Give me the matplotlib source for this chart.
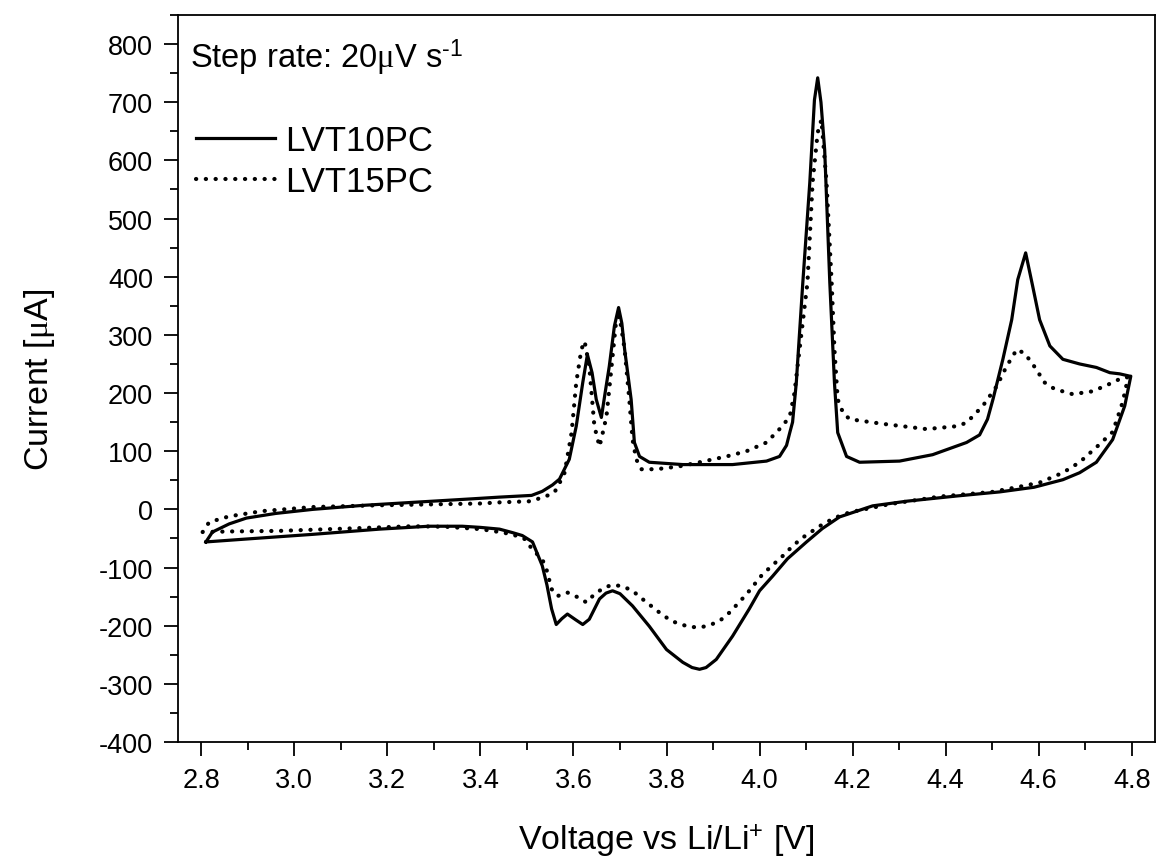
import numpy as np
import matplotlib
matplotlib.use("Agg")
import matplotlib.pyplot as plt
from matplotlib.ticker import MultipleLocator

plt.rcParams['font.family'] = ['Liberation Sans', 'DejaVu Sans']
plt.rcParams['axes.unicode_minus'] = False
plt.rcParams['mathtext.fontset'] = 'custom'
plt.rcParams['mathtext.rm'] = 'Liberation Sans'
plt.rcParams['mathtext.sf'] = 'Liberation Sans'
plt.rcParams['mathtext.it'] = 'Liberation Serif'
plt.rcParams['mathtext.bf'] = 'Liberation Sans:bold'

# ---- LVT10PC (solid) ----
v10_anodic = [2.81, 2.824, 2.86, 2.897, 2.96, 3.04, 3.15, 3.254, 3.38, 3.44, 3.51, 3.533, 3.555, 3.57,
              3.591, 3.606, 3.620, 3.630, 3.640, 3.649, 3.660, 3.668, 3.677, 3.688, 3.697, 3.704, 3.710,
              3.724, 3.731, 3.742, 3.763, 3.835, 3.942, 4.015, 4.043, 4.058, 4.065, 4.071, 4.079, 4.093,
              4.108, 4.118, 4.125, 4.132, 4.140, 4.151, 4.161, 4.168, 4.187, 4.215, 4.301, 4.372, 4.445,
              4.473, 4.49, 4.502, 4.523, 4.542, 4.555, 4.572, 4.587, 4.602, 4.624, 4.652, 4.688, 4.724,
              4.753, 4.774, 4.796]
i10_anodic = [-56, -39, -25, -15, -7, 0, 7, 12, 18, 21, 24, 31, 42, 52,
              86, 143, 218, 266, 235, 189, 158, 200, 246, 315, 347, 320, 275,
              189, 115, 91, 81, 77, 77, 83, 91, 110, 132, 150, 218, 390,
              562, 704, 742, 700, 618, 390, 218, 132, 91, 81, 83, 94, 115,
              128, 155, 190, 258, 326, 395, 441, 384, 326, 281, 258, 250, 244,
              235, 233, 229]
v10_cathodic = [4.798, 4.785, 4.759, 4.724, 4.688, 4.652, 4.59, 4.516, 4.424, 4.316, 4.243, 4.172, 4.135,
                4.101, 4.06, 4.028, 4.00, 3.978, 3.942, 3.907, 3.885, 3.871, 3.855, 3.835, 3.800, 3.763,
                3.727, 3.700, 3.684, 3.670, 3.656, 3.634, 3.620, 3.605, 3.587, 3.575, 3.563, 3.553, 3.543,
                3.533, 3.512, 3.49, 3.469, 3.441, 3.40, 3.361, 3.29, 3.183, 3.039, 2.897, 2.81]
i10_cathodic = [229, 178, 120, 81, 63, 51, 38, 30, 23, 14, 6, -13, -33,
                -56, -85, -115, -140, -171, -218, -258, -272, -275, -272, -263, -241, -201,
                -166, -145, -140, -144, -154, -189, -198, -190, -180, -188, -198, -171, -130,
                -97, -56, -45, -40, -34, -31, -29, -29, -34, -43, -51, -56]

# ---- LVT15PC (dotted) ----
v15_anodic = [2.803, 2.817, 2.86, 2.931, 3.039, 3.183, 3.398, 3.441, 3.51, 3.52, 3.545, 3.559, 3.570,
              3.581, 3.596, 3.606, 3.617, 3.624, 3.634, 3.645, 3.656, 3.664, 3.671, 3.682, 3.692, 3.699,
              3.710, 3.720, 3.727, 3.735, 3.746, 3.778, 3.828, 3.871, 3.929, 3.972, 4.015, 4.049, 4.065,
              4.075, 4.086, 4.103, 4.114, 4.125, 4.133, 4.144, 4.155, 4.161, 4.168, 4.180, 4.194, 4.265,
              4.359, 4.424, 4.445, 4.48, 4.51, 4.531, 4.553, 4.570, 4.587, 4.613, 4.634, 4.673, 4.716,
              4.759, 4.781, 4.792]
i15_anodic = [-39, -22, -12, -3, 4, 7, 10, 12, 14, 17, 24, 29, 45,
              63, 132, 218, 275, 289, 246, 143, 108, 135, 160, 246, 326, 332,
              275, 189, 120, 86, 69, 69, 74, 81, 91, 100, 115, 143, 160,
              200, 275, 390, 562, 648, 670, 562, 390, 275, 189, 165, 155, 147,
              138, 143, 149, 178, 212, 246, 275, 268, 250, 218, 207, 198, 203,
              218, 227, 227]
v15_cathodic = [4.792, 4.785, 4.778, 4.759, 4.727, 4.688, 4.652, 4.602, 4.553, 4.50, 4.387, 4.28, 4.194,
                4.16, 4.129, 4.09, 4.07, 4.05, 4.028, 4.006, 3.972, 3.936, 3.914, 3.89, 3.871, 3.850,
                3.832, 3.811, 3.789, 3.748, 3.727, 3.705, 3.684, 3.667, 3.645, 3.628, 3.609, 3.587, 3.566,
                3.553, 3.542, 3.533, 3.512, 3.495, 3.469, 3.441, 3.40, 3.327, 3.254, 3.112, 2.968, 2.86,
                2.806]
i15_cathodic = [227, 200, 178, 133, 109, 81, 63, 46, 38, 30, 22, 9, -5,
                -15, -29, -50, -64, -80, -96, -112, -146, -177, -192, -200, -203, -202,
                -198, -192, -180, -154, -140, -132, -130, -134, -146, -160, -151, -143, -149,
                -137, -103, -86, -69, -51, -43, -39, -34, -30, -29, -33, -37, -38,
                -39]

labels = ["LVT10PC", "LVT15PC"]
x_ticks = [2.8, 3.0, 3.2, 3.4, 3.6, 3.8, 4.0, 4.2, 4.4, 4.6, 4.8]
y_ticks = [-400, -300, -200, -100, 0, 100, 200, 300, 400, 500, 600, 700, 800]

fig = plt.figure(figsize=(11.57, 8.62), dpi=100)
ax = fig.add_axes([178/1157, 119/862, 977/1157, 727/862])

v10 = v10_anodic + v10_cathodic
i10 = i10_anodic + i10_cathodic
v15 = v15_anodic + v15_cathodic
i15 = i15_anodic + i15_cathodic

ax.plot(v10, i10, color='black', lw=2.3, solid_joinstyle='round', label=labels[0])
ax.plot(v15, i15, color='black', lw=3.0, linestyle=(0, (0.05, 2.3)),
        dash_capstyle='round', label=labels[1])

ax.set_xlim(2.75, 4.85)
ax.set_ylim(-400, 850)
ax.set_xticks(x_ticks)
ax.set_xticklabels([f"{t:.1f}" for t in x_ticks])
ax.set_yticks(y_ticks)
ax.set_yticklabels([str(t) for t in y_ticks])
ax.xaxis.set_minor_locator(MultipleLocator(0.1))
ax.yaxis.set_minor_locator(MultipleLocator(50))
ax.tick_params(which='major', direction='out', length=10, width=1.3, labelsize=19.5, pad=8)
ax.tick_params(which='minor', direction='out', length=6, width=1.3)
ax.tick_params(top=False, right=False)
for s in ax.spines.values():
    s.set_linewidth(1.3)

ax.set_xlabel(r"Voltage vs Li/Li$^{+}$ [V]", fontsize=24.5, labelpad=20)
ax.set_ylabel(r"Current [$\mu$A]", fontsize=24.5, labelpad=30)

ax.text(0.012, 0.928, r"Step rate: 20$\mu$V s$^{\text{-}1}$", transform=ax.transAxes,
        fontsize=23.5, va='baseline', ha='left')

leg = ax.legend(loc='upper left', bbox_to_anchor=(-0.006, 0.883), frameon=False, fontsize=25,
                handlelength=2.25, handletextpad=0.3, labelspacing=0.21, borderaxespad=0.3)

fig.savefig("out.png", dpi=100)
